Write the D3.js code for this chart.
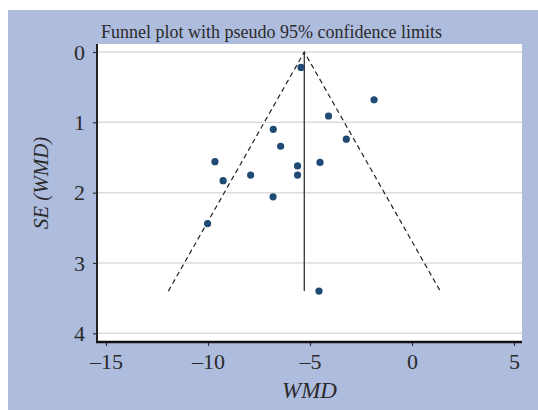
<!DOCTYPE html>
<style>
  body { margin: 0; background: #fff; }
  text { font-family: "Liberation Serif", "DejaVu Serif", serif; fill: #2b2b2b; }
</style>
<body></body>
<script src="https://cdn.jsdelivr.net/npm/d3@7"></script>
<script>
  const width = 538
  const height = 410

  // study effects (WMD) and their standard errors
  const wmd = [-5.44, -1.86, -4.09, -6.80, -3.22, -6.44, -9.66, -5.61, -4.51, -9.26, -7.91, -5.61, -6.81, -10.02, -4.56]
  const se = [0.22, 0.68, 0.91, 1.10, 1.24, 1.34, 1.56, 1.62, 1.57, 1.83, 1.75, 1.75, 2.06, 2.44, 3.40]
  const pooled = -5.28
  const maxSE = 3.4
  const xTicks = [-15, -10, -5, 0, 5]
  const yTicks = [0, 1, 2, 3, 4]

  const plot = { left: 97, right: 522, top: 44, bottom: 342 }

  const x = d3.scaleLinear().domain([-15, 5]).range([106, 514])
  const y = d3.scaleLinear().domain([0, 4]).range([52, 333.3])

  const svg = d3.select("body")
    .append("svg")
    .attr("width", width)
    .attr("height", height)

  // outer bluish background
  svg.append("rect")
    .attr("x", 8)
    .attr("y", 10)
    .attr("width", width - 8)
    .attr("height", height - 10)
    .attr("fill", "#aebcde")

  // plot region
  svg.append("rect")
    .attr("x", plot.left)
    .attr("y", plot.top)
    .attr("width", plot.right - plot.left)
    .attr("height", plot.bottom - plot.top)
    .attr("fill", "#fff")

  // horizontal grid
  svg.append("g")
    .selectAll("line")
    .data(yTicks)
    .enter()
    .append("line")
    .attr("x1", plot.left)
    .attr("x2", plot.right)
    .attr("y1", d => y(d))
    .attr("y2", d => y(d))
    .attr("stroke", "#dcdcdc")
    .attr("stroke-width", 1.5)

  // y axis
  const yAxis = d3.axisLeft(y)
    .tickValues(yTicks)
    .tickFormat(d3.format("d"))
    .tickSize(4)
    .tickPadding(8)

  const gy = svg.append("g")
    .attr("transform", `translate(${plot.left},0)`)
    .call(yAxis)
  gy.select(".domain").remove()
  gy.selectAll(".tick line").attr("stroke", "#333").attr("stroke-width", 1.2)
  gy.selectAll(".tick text").attr("font-size", 22).attr("fill", "#2b2b2b")
    .style("font-family", "Liberation Serif, serif")

  svg.append("line")
    .attr("x1", plot.left)
    .attr("x2", plot.left)
    .attr("y1", plot.top)
    .attr("y2", plot.bottom + 1)
    .attr("stroke", "#222")
    .attr("stroke-width", 2)

  // x axis
  const xAxis = d3.axisBottom(x)
    .tickValues(xTicks)
    .tickFormat(d => d < 0 ? "\u2013" + Math.abs(d) : d)
    .tickSize(4)
    .tickPadding(7)

  const gx = svg.append("g")
    .attr("transform", `translate(0,${plot.bottom})`)
    .call(xAxis)
  gx.select(".domain").remove()
  gx.selectAll(".tick line").attr("stroke", "#333").attr("stroke-width", 1.2)
  gx.selectAll(".tick text").attr("font-size", 22).attr("fill", "#2b2b2b")
    .style("font-family", "Liberation Serif, serif")

  svg.append("line")
    .attr("x1", plot.left - 1)
    .attr("x2", plot.right)
    .attr("y1", plot.bottom)
    .attr("y2", plot.bottom)
    .attr("stroke", "#111")
    .attr("stroke-width", 2.5)

  // pseudo 95% confidence limits
  const funnel = [[pooled - 1.96 * maxSE, maxSE], [pooled, 0], [pooled + 1.96 * maxSE, maxSE]]
  const line = d3.line().x(d => x(d[0])).y(d => y(d[1]))

  svg.append("path")
    .datum(funnel)
    .attr("d", line)
    .attr("fill", "none")
    .attr("stroke", "#222")
    .attr("stroke-width", 1.2)
    .attr("stroke-dasharray", "5,3.5")

  svg.append("path")
    .datum([[pooled, 0], [pooled, maxSE]])
    .attr("d", line)
    .attr("fill", "none")
    .attr("stroke", "#333")
    .attr("stroke-width", 1.3)

  // studies
  svg.append("g")
    .selectAll("circle")
    .data(d3.range(wmd.length))
    .enter()
    .append("circle")
    .attr("cx", i => x(wmd[i]))
    .attr("cy", i => y(se[i]))
    .attr("r", 3.6)
    .attr("fill", "#1f4a73")

  // titles
  svg.append("text")
    .attr("x", 101)
    .attr("y", 37.5)
    .attr("font-size", 18)
    .text("Funnel plot with pseudo 95% confidence limits")

  svg.append("text")
    .attr("x", (plot.left + plot.right) / 2)
    .attr("y", 398)
    .attr("text-anchor", "middle")
    .attr("font-size", 23)
    .attr("font-style", "italic")
    .text("WMD")

  svg.append("text")
    .attr("transform", "translate(48,183) rotate(-90)")
    .attr("text-anchor", "middle")
    .attr("font-size", 21)
    .attr("font-style", "italic")
    .text("SE (WMD)")
</script>
